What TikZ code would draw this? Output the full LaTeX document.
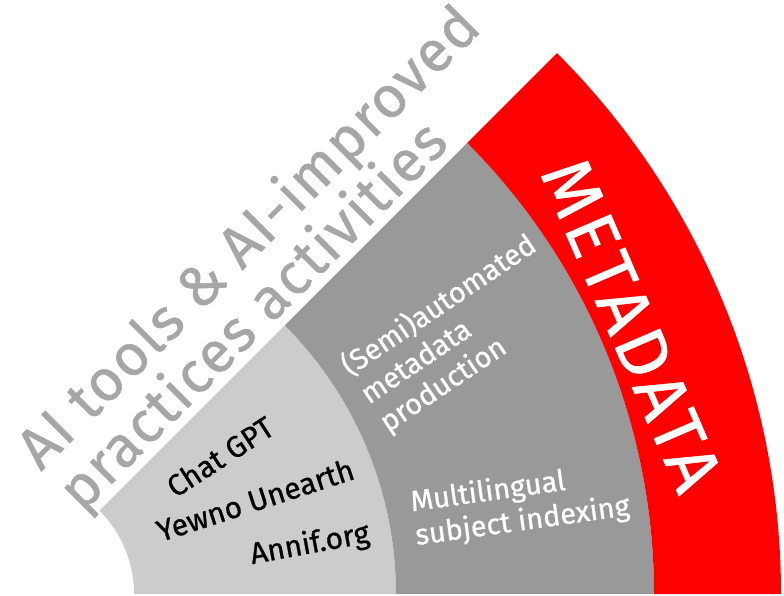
\documentclass[tikz,border=0pt]{standalone}
\usepackage{fontspec}
\setmainfont{Fira Sans}[FakeBold=0.8]
\usetikzlibrary{calc}

\definecolor{lightband}{HTML}{CCCCCC}
\definecolor{midband}{HTML}{999999}
\definecolor{metared}{HTML}{FF0000}
\definecolor{titlegray}{HTML}{A6A6A6}

\begin{document}
\begin{tikzpicture}[x=1pt, y=1pt,
    titletext/.style={font=\fontsize{58}{51}\selectfont\addfontfeature{LetterSpace=3}, text=titlegray, align=left, inner sep=0pt},
    tooltext/.style={font=\fontsize{30}{35}\selectfont, text=black, inner sep=0pt},
    bandtext/.style={font=\fontsize{29}{34}\selectfont, text=white, align=left, inner sep=0pt},
    bigtext/.style={font=\fontsize{71}{71}\selectfont\addfontfeature{LetterSpace=6}, text=white, inner sep=0pt}]

    % Canvas of the picture
    \useasboundingbox (0,0) rectangle (784,595);

    % Centre of the fan
    \coordinate (o) at (16,1);

    % Draw the three bands, each one a sector from 0 to 45 degrees
    \foreach \rin/\rout/\col in {118/380/lightband, 380/638/midband, 638/765/metared} {
        \fill[\col] ($(o)+(0:\rin pt)$) arc (0:45:\rin pt)
            -- ($(o)+(45:\rout pt)$) arc (45:0:\rout pt) -- cycle;
    }

    % Title along the upper edge
    \node[titletext, rotate=45] (title) at (271,335) {AI tools \& AI-improved\\practices activities};

    % Labels in the inner band
    \node[tooltext, rotate=33] (chat) at ($(o)+(34:246)$) {Chat GPT};
    \node[tooltext, rotate=18] (yewno) at ($(o)+(21.5:257)$) {Yewno Unearth};
    \node[tooltext, rotate=10.5] (annif) at ($(o)+(9.5:298)$) {Annif.org};

    % Labels in the middle band
    \node[bandtext, rotate=34] (semi) at ($(o)+(30.5:513)$) {(Semi)automated\\metadata\\production};
    \node[bandtext, rotate=8] (multi) at ($(o)+(10:512)$) {Multilingual\\subject indexing};

    % Label in the outer band
    \node[bigtext, rotate=-66.7] (meta) at ($(o)+(23.6:672)$) {METADATA};

\end{tikzpicture}
\end{document}
